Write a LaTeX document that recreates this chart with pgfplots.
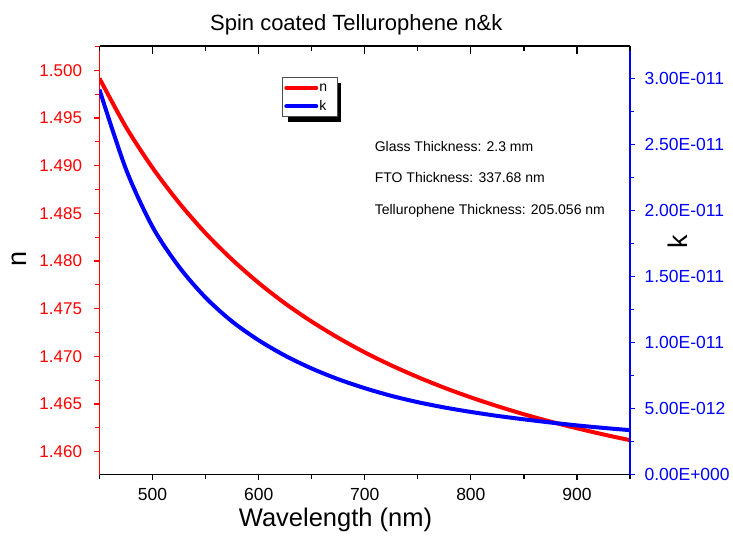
\documentclass[border=0pt]{standalone}
\usepackage{fontspec}
\setmainfont{Liberation Sans}
\usepackage{pgfplots}
\pgfplotsset{compat=1.18}

\pgfplotsset{
  common/.style={
    scale only axis, width=530.5pt, height=428.5pt,
    xmin=450, xmax=950, at={(0pt,0pt)}, anchor=south west,
    /pgf/number format/assume math mode=true,
    clip=true,
  },
}

\begin{document}
\begin{tikzpicture}
\path[use as bounding box] (-99.5pt,-67.5pt) rectangle (633.5pt,474.5pt);

% ---- left axis (n) with bottom x axis
\begin{axis}[common,
  ymin=1.4576, ymax=1.50255,
  axis x line*=bottom, axis y line*=left,
  tick align=outside,
  xtick={500,600,700,800,900},
  minor xtick={450,550,650,750,850,950},
  ytick={1.460,1.465,1.470,1.475,1.480,1.485,1.490,1.495,1.500},
  minor ytick={1.4625,1.4675,1.4725,1.4775,1.4825,1.4875,1.4925,1.4975,1.5025},
  major tick length=5pt, minor tick length=4pt,
  x axis line style={black, line width=1.4pt},
  y axis line style={red, line width=1.5pt},
  xtick style={black, line width=1.2pt},
  ytick style={red, line width=1.2pt},
  xticklabel style={font=\fontsize{17.5}{20}\selectfont, text=black, yshift=-5pt},
  yticklabel style={font=\fontsize{17}{20}\selectfont, text=red, xshift=-9pt,
    /pgf/number format/.cd, fixed, fixed zerofill, precision=3},
]
\addplot[red, line width=4pt, line join=round, smooth] table {
x y
450 1.49915
475 1.49404
500 1.48977
525 1.48610
550 1.48291
575 1.48014
600 1.47770
625 1.47554
650 1.47364
675 1.47194
700 1.47041
725 1.46905
750 1.46782
775 1.46670
800 1.46569
825 1.46477
850 1.46392
875 1.46315
900 1.46245
925 1.46180
950 1.46120
};
\end{axis}

% ---- right axis (k)
\begin{axis}[common,
  ymin=0, ymax=3.246e-11,
  axis x line=none, axis y line*=right,
  tick align=outside,
  scaled y ticks=false,
  ytick={0,5e-12,1e-11,1.5e-11,2e-11,2.5e-11,3e-11},
  yticklabels={0.00E+000,5.00E-012,1.00E-011,1.50E-011,2.00E-011,2.50E-011,3.00E-011},
  minor ytick={2.5e-12,7.5e-12,1.25e-11,1.75e-11,2.25e-11,2.75e-11},
  major tick length=5pt, minor tick length=4pt,
  y axis line style={blue, line width=1.5pt},
  ytick style={blue, line width=1.2pt},
  yticklabel style={font=\fontsize{17.5}{20}\selectfont, text=blue, xshift=6pt},
  legend image code/.code={\draw[#1, line cap=round] (0pt,0pt) -- (30pt,0pt);},
  legend cell align=left,
  legend style={at={(0.344,0.927)}, anchor=north west,
    draw=black!70, line width=0.6pt, fill=white,
    font=\fontsize{14}{16}\selectfont,
    inner xsep=2pt, inner ysep=1pt, row sep=0pt, column sep=0pt,
    nodes={inner xsep=1pt, inner ysep=2pt, text height=11pt, text depth=3.5pt}},
]
\fill[black] (axis description cs:0.3553,0.9130) rectangle (axis description cs:0.4552,0.8226);
\addlegendimage{red, line width=4pt}
\addlegendentry{n\hspace*{7pt}}
\addplot[blue, line width=4pt, line join=round, smooth] table {
x y
450 2.915e-11
475 2.312e-11
500 1.876e-11
525 1.573e-11
550 1.340e-11
575 1.159e-11
600 1.017e-11
625 0.900e-11
650 0.803e-11
675 0.722e-11
700 0.654e-11
725 0.596e-11
750 0.548e-11
775 0.508e-11
800 0.474e-11
825 0.444e-11
850 0.418e-11
875 0.394e-11
900 0.372e-11
925 0.353e-11
950 0.336e-11
};
\addlegendentry{k\hspace*{7pt}}
\end{axis}

% ---- top axis
\begin{axis}[common,
  ymin=0, ymax=1,
  axis x line*=top, axis y line=none,
  tick align=inside,
  xtick={500,600,700,800,900},
  minor xtick={450,550,650,750,850,950},
  xticklabels={},
  major tick length=8pt, minor tick length=5pt,
  x axis line style={black, line width=1.4pt},
  xtick style={black, line width=1.2pt},
]
\end{axis}

\node[anchor=base, font=\fontsize{22}{26}\selectfont] at (256.8pt,443.5pt) {Spin coated Tellurophene n\&k};
\node[anchor=base, font=\fontsize{25.5}{30}\selectfont] at (236pt,-52.2pt) {Wavelength (nm)};
\node[rotate=90, font=\fontsize{27}{30}\selectfont] at (-80.3pt,215.5pt) {n};
\node[rotate=90, font=\fontsize{27}{30}\selectfont] at (578.5pt,232.8pt) {k};
\node[anchor=base west, font=\fontsize{14}{16}\selectfont] at (271.8pt,323.5pt) {Glass Thickness: 2.3 mm};
\node[anchor=base west, font=\fontsize{14}{16}\selectfont] at (271.8pt,292.2pt) {FTO Thickness: 337.68 nm};
\node[anchor=base west, font=\fontsize{14}{16}\selectfont] at (271.8pt,260.5pt) {Tellurophene Thickness: 205.056 nm};
\end{tikzpicture}
\end{document}
